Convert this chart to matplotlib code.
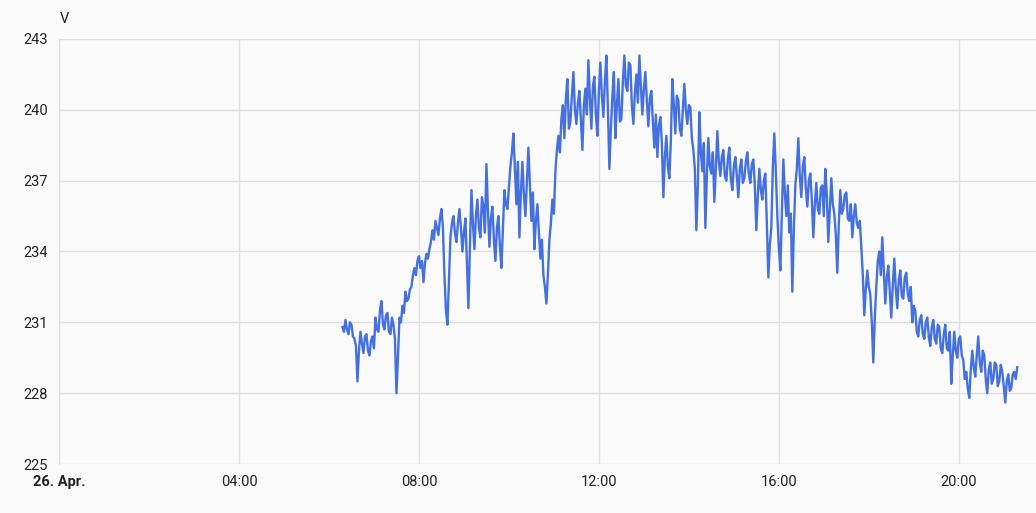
import matplotlib.pyplot as plt
import pandas as pd

plt.rcParams["font.family"] = ["Roboto", "DejaVu Sans"]

# Voltage readings, one every 2 minutes starting 26 Apr 06:18
start = "2024-04-26 06:18"
step_minutes = 2
voltage = [
    230.8, 230.6, 231.1, 230.7, 230.5, 231.0, 230.9, 230.4, 230.3, 230.0,
    228.5, 229.8, 230.6, 230.1, 229.7, 230.4, 230.5, 229.8, 229.6, 230.2,
    230.4, 229.9, 231.2, 230.7, 230.6, 231.5, 231.9, 230.9, 230.7, 231.3,
    231.4, 230.6, 230.5, 231.2, 230.9, 230.3, 228.0, 229.5, 231.2, 231.0,
    231.7, 231.4, 232.3, 231.9, 232.0, 232.4, 232.5, 233.0, 233.3, 233.0,
    233.6, 233.8, 233.3, 233.6, 232.7, 233.5, 233.9, 233.7, 234.1, 234.4,
    234.9, 234.5, 235.3, 235.0, 234.7, 235.4, 235.8, 235.0, 233.0, 231.5,
    230.9, 232.8, 234.6, 235.2, 235.5, 234.8, 234.4, 235.2, 235.8, 235.0,
    234.0, 234.8, 235.4, 233.5, 231.6, 234.2, 236.6, 235.2, 234.1, 235.5,
    236.2, 235.0, 234.6, 236.3, 235.9, 234.8, 237.7, 235.8, 234.2, 235.4,
    235.9, 234.5, 233.6, 235.0, 235.5, 234.2, 233.3, 235.0, 236.6, 236.0,
    235.8, 236.7, 237.6, 238.2, 239.0, 237.5, 236.0, 237.8, 234.6, 236.5,
    237.8, 236.4, 235.5, 237.0, 238.4, 236.8, 235.3, 236.5, 234.1, 235.3,
    236.0, 234.8, 233.7, 234.5, 233.0, 232.5, 231.8, 233.0, 234.5, 235.2,
    236.2, 235.6, 237.4, 238.3, 238.9, 238.2, 239.6, 240.2, 238.8, 240.5,
    241.3, 239.2, 239.5, 240.6, 241.6, 240.0, 239.4, 240.3, 240.8, 239.6,
    238.3, 240.2, 240.9, 239.8, 242.1, 240.5, 239.2, 241.0, 241.4, 239.8,
    238.9, 240.8, 242.0, 240.6, 239.7, 241.2, 242.3, 240.1, 237.5, 239.2,
    240.6, 241.6, 238.8, 240.2, 241.3, 239.5, 239.6, 241.2, 242.3, 241.0,
    240.8, 242.0, 241.9, 240.2, 239.4, 240.7, 241.5, 240.3, 242.3, 241.0,
    239.8, 240.9, 241.6, 240.4, 239.3, 240.5, 240.8, 239.5, 238.4, 239.8,
    238.0, 239.3, 239.7, 238.6, 236.3, 238.0, 238.9, 237.6, 237.1, 238.7,
    241.3, 240.2, 239.0, 240.6, 240.4, 239.2, 238.9, 240.0, 241.1, 240.0,
    239.4, 240.2, 240.1, 238.8, 238.3, 237.5, 234.9, 236.8, 239.9, 238.2,
    237.4, 238.6, 235.0, 237.2, 238.8, 237.6, 237.3, 238.2, 236.1, 237.5,
    239.1, 237.8, 237.2, 238.0, 238.3, 237.2, 237.0, 237.9, 238.4, 237.1,
    236.6, 237.6, 238.0, 237.2, 236.3, 237.5, 237.9, 236.9, 237.1, 237.8,
    238.2, 237.3, 236.9, 237.7, 237.9, 236.8, 234.9, 236.4, 237.5, 236.6,
    236.2, 237.0, 237.3, 235.2, 232.9, 234.3, 235.0, 237.6, 239.0, 237.4,
    235.5, 234.2, 233.2, 235.5, 237.9, 236.5, 235.5, 236.8, 234.8, 235.6,
    232.3, 234.9, 236.8, 237.5, 238.8, 237.2, 236.3, 237.6, 238.0, 236.7,
    235.9, 237.0, 237.3, 236.2, 234.6, 236.0, 236.9, 235.8, 235.6, 236.7,
    236.8, 235.5, 237.5, 236.4, 234.4, 235.8, 237.1, 236.0, 235.6, 234.7,
    233.1, 235.2, 236.6, 235.6, 235.8, 236.4, 236.5, 235.4, 235.3, 236.0,
    234.6, 235.5, 236.0, 235.2, 235.0, 235.3, 234.2, 233.0, 231.3, 232.4,
    233.2, 232.5, 232.2, 231.0, 229.3, 231.2, 232.5, 233.6, 234.0, 233.0,
    234.6, 233.2, 231.8, 232.9, 233.4, 232.3, 231.2, 232.6, 233.7, 232.4,
    231.6, 232.8, 233.2, 232.1, 232.0, 232.9, 233.1, 232.2, 231.9, 232.5,
    231.0, 231.7, 231.5, 230.6, 230.4, 231.1, 231.3, 230.5, 230.3, 231.0,
    231.2, 230.4, 230.0, 230.8, 231.1, 230.3, 230.1, 230.9, 230.8, 229.9,
    229.7, 230.5, 230.9, 229.9, 229.8, 230.6, 228.4, 229.6, 230.6, 229.8,
    229.5, 230.3, 230.4, 229.6, 229.4, 228.6, 228.9, 228.2, 227.8, 229.0,
    229.8, 229.1, 228.7, 229.6, 230.4, 229.3, 228.9, 229.8, 229.6, 228.6,
    228.0, 229.0, 229.3, 228.4, 228.6, 229.3, 229.2, 228.3, 228.5, 229.2,
    228.9, 228.3, 227.6, 228.5, 228.8, 228.1, 228.2, 228.8, 228.9, 228.6,
    229.1,
]
y_ticks = [225, 228, 231, 234, 237, 240, 243]

times = pd.date_range(start, periods=len(voltage), freq=f"{step_minutes}min")

fig = plt.figure(figsize=(10.36, 5.13), dpi=100)
fig.patch.set_facecolor("#fafafa")
ax = fig.add_axes([0.057, 0.0955, 0.943, 0.8285])
ax.set_facecolor("#fafafa")

ax.plot(times, voltage, color="#4470e0", linewidth=1.7)

ax.set_ylim(225, 243)
ax.set_yticks(y_ticks)
ax.set_xlim(pd.Timestamp("2024-04-26 00:00"), pd.Timestamp("2024-04-26 21:43"))

ticks = pd.date_range("2024-04-26 00:00", periods=6, freq="4h")
ax.set_xticks(ticks)
labels = ["26. Apr."] + [t.strftime("%H:%M") for t in ticks[1:]]
ax.set_xticklabels(labels)
ax.get_xticklabels()[0].set_fontweight("bold")

ax.grid(True, color="#e0e0e0", linewidth=1)
ax.tick_params(length=0, labelsize=10.5, colors="#212121", pad=8)
for side in ["top", "right", "bottom"]:
    ax.spines[side].set_visible(False)
ax.spines["left"].set_color("#e0e0e0")

fig.text(0.058, 0.955, "V", fontsize=10.5, color="#212121")

fig.savefig("out.png", dpi=100, facecolor=fig.get_facecolor())
